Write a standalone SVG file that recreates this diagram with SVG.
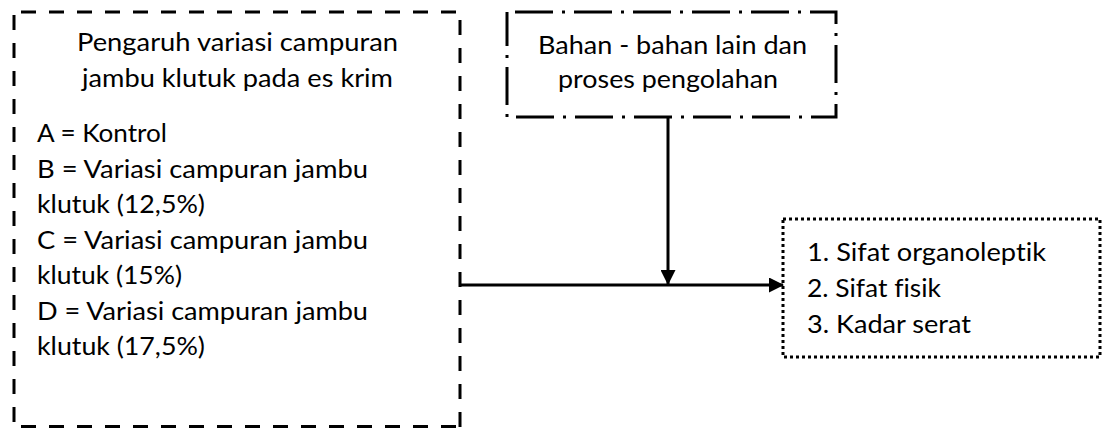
<svg xmlns="http://www.w3.org/2000/svg" width="1107" height="428" viewBox="0 0 1107 428">
  <style>
    .t { font-family: Lato, "Open Sans", "Liberation Sans", sans-serif; font-size: 25.5px; fill: #000; font-variant-ligatures: none; }
    .c { text-anchor: middle; }
    .edge { fill: none; stroke: #000; stroke-width: 3; }
    .dash { stroke-dasharray: 15 13; }
    .dashdot { stroke-dasharray: 38 9 3 9; stroke-dashoffset: 51; }
    .dot { stroke-dasharray: 3 3; }
    .conn { stroke: #000; stroke-width: 3; fill: none; }
  </style>
  <defs>
    <marker id="arrow" viewBox="0 0 15 15" refX="14" refY="7.5" markerWidth="15" markerHeight="15" markerUnits="userSpaceOnUse" orient="auto">
      <path d="M0,0 L15,7.5 L0,15 Z" fill="#000"/>
    </marker>
  </defs>

  <rect width="1107" height="428" fill="#fff"/>

  <!-- Treatment box (dashed border drawn side by side) -->
  <g id="perlakuan">
    <path class="edge dash" d="M21,12 H460"/>
    <path class="edge dash" d="M14,15 V428"/>
    <path class="edge dash" d="M460,20 V428"/>
    <path class="edge dash" d="M21,426.5 H460"/>
    <text class="t c" x="237.5" y="51" textLength="321" lengthAdjust="spacingAndGlyphs">Pengaruh variasi campuran</text>
    <text class="t c" x="237.5" y="87" textLength="311" lengthAdjust="spacingAndGlyphs">jambu klutuk pada es krim</text>
    <text class="t" x="37" y="142" textLength="130" lengthAdjust="spacingAndGlyphs">A = Kontrol</text>
    <text class="t" x="37" y="177.5" textLength="331" lengthAdjust="spacingAndGlyphs">B = Variasi campuran jambu</text>
    <text class="t" x="37" y="213" textLength="168" lengthAdjust="spacingAndGlyphs">klutuk (12,5%)</text>
    <text class="t" x="37" y="248.5" textLength="331" lengthAdjust="spacingAndGlyphs">C = Variasi campuran jambu</text>
    <text class="t" x="37" y="284" textLength="145" lengthAdjust="spacingAndGlyphs">klutuk (15%)</text>
    <text class="t" x="37" y="319.5" textLength="331" lengthAdjust="spacingAndGlyphs">D = Variasi campuran jambu</text>
    <text class="t" x="37" y="355" textLength="168" lengthAdjust="spacingAndGlyphs">klutuk (17,5%)</text>
  </g>

  <!-- Other ingredients and processing box -->
  <g id="bahan-lain">
    <rect class="edge dashdot" x="507" y="12" width="329" height="105"/>
    <text class="t c" x="672.5" y="54" textLength="269" lengthAdjust="spacingAndGlyphs">Bahan - bahan lain dan</text>
    <text class="t c" x="668" y="88" textLength="220" lengthAdjust="spacingAndGlyphs">proses pengolahan</text>
  </g>

  <!-- Observed parameters box -->
  <g id="parameter">
    <rect class="edge dot" x="783" y="219" width="317" height="138"/>
    <text class="t" x="807" y="261" textLength="239" lengthAdjust="spacingAndGlyphs">1. Sifat organoleptik</text>
    <text class="t" x="807" y="297" textLength="134" lengthAdjust="spacingAndGlyphs">2. Sifat fisik</text>
    <text class="t" x="807" y="333" textLength="164" lengthAdjust="spacingAndGlyphs">3. Kadar serat</text>
  </g>

  <!-- Connectors -->
  <g id="connectors">
    <line class="conn" x1="460" y1="285" x2="783" y2="285" marker-end="url(#arrow)"/>
    <line class="conn" x1="668" y1="117" x2="668" y2="284" marker-end="url(#arrow)"/>
  </g>
</svg>
